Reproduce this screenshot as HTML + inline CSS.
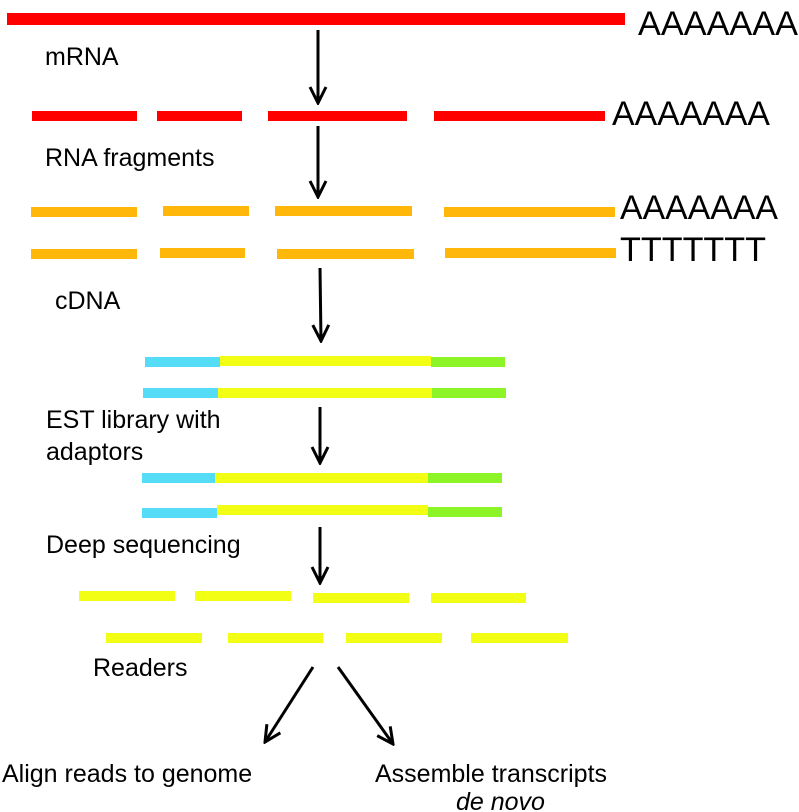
<!DOCTYPE html>
<html><head><style>body{margin:0;background:#fff}svg{display:block}</style></head><body>
<svg width="799" height="812" viewBox="0 0 799 812" xmlns="http://www.w3.org/2000/svg" font-family="Liberation Sans, sans-serif">
<defs><marker id="ah" viewBox="0 0 20 20" refX="18" refY="10" markerWidth="20" markerHeight="20" markerUnits="userSpaceOnUse" orient="auto"><path d="M2,2 L18,10 L2,18" fill="none" stroke="#000" stroke-width="3"/></marker></defs>
<g fill="#ff0000">
<rect x="7" y="13" width="618" height="12"/>
<rect x="32" y="111" width="105" height="10"/><rect x="157" y="111" width="85" height="10"/><rect x="268" y="111" width="139" height="10"/><rect x="434" y="111" width="171" height="10"/>
</g>
<g fill="#ffb80a">
<rect x="31" y="207" width="106" height="10"/><rect x="163" y="206" width="86" height="10"/><rect x="275" y="206" width="137" height="10"/><rect x="444" y="207" width="171" height="10"/>
<rect x="31" y="249" width="106" height="10"/><rect x="160" y="248" width="85" height="10"/><rect x="277" y="249" width="137" height="10"/><rect x="445" y="248" width="171" height="10"/>
</g>
<g>
<rect x="145" y="357" width="75" height="10" fill="#55ddf8"/><rect x="220" y="356" width="211" height="10" fill="#f2ff14"/><rect x="431" y="357" width="74" height="10" fill="#8df527"/>
<rect x="143" y="388" width="75" height="10" fill="#55ddf8"/><rect x="218" y="388" width="214" height="10" fill="#f2ff14"/><rect x="432" y="388" width="74" height="10" fill="#8df527"/>
<rect x="142" y="473" width="73" height="10" fill="#55ddf8"/><rect x="215" y="473" width="213" height="10" fill="#f2ff14"/><rect x="428" y="473" width="74" height="10" fill="#8df527"/>
<rect x="142" y="508" width="75" height="10" fill="#55ddf8"/><rect x="217" y="505" width="211" height="10" fill="#f2ff14"/><rect x="428" y="507" width="74" height="10" fill="#8df527"/>
</g>
<g fill="#f2ff14">
<rect x="79" y="591" width="96" height="10"/><rect x="195" y="591" width="96" height="10"/><rect x="313" y="593" width="96" height="10"/><rect x="431" y="593" width="95" height="10"/>
<rect x="106" y="633" width="96" height="10"/><rect x="228" y="633" width="95" height="10"/><rect x="346" y="633" width="96" height="10"/><rect x="471" y="633" width="97" height="10"/>
</g>
<g stroke="#000" stroke-width="3" marker-end="url(#ah)">
<line x1="318" y1="30" x2="318" y2="103"/>
<line x1="318" y1="126" x2="318" y2="197"/>
<line x1="320" y1="268" x2="321" y2="341"/>
<line x1="320" y1="407" x2="320" y2="463"/>
<line x1="320" y1="527" x2="320" y2="583"/>
<line x1="313" y1="667" x2="265" y2="742"/>
<line x1="338" y1="667" x2="393" y2="744"/>
</g>
<g fill="#000">
<text x="638" y="35" font-size="34" textLength="160" lengthAdjust="spacingAndGlyphs">AAAAAAA</text>
<text x="612" y="125" font-size="34" textLength="158" lengthAdjust="spacingAndGlyphs">AAAAAAA</text>
<text x="620" y="219" font-size="34" textLength="158" lengthAdjust="spacingAndGlyphs">AAAAAAA</text>
<text x="620" y="261" font-size="34" textLength="146" lengthAdjust="spacingAndGlyphs">TTTTTTT</text>
<text x="45" y="65" font-size="25">mRNA</text>
<text x="45" y="166" font-size="25">RNA fragments</text>
<text x="55" y="309" font-size="25">cDNA</text>
<text x="46" y="428" font-size="25">EST library with</text>
<text x="46" y="460" font-size="25">adaptors</text>
<text x="46" y="553" font-size="25">Deep sequencing</text>
<text x="93" y="676" font-size="25">Readers</text>
<text x="2" y="782" font-size="25">Align reads to genome</text>
<text x="375" y="782" font-size="25">Assemble transcripts</text>
<text x="456" y="810" font-size="25" font-style="italic">de novo</text>
</g>
</svg>
</body></html>
